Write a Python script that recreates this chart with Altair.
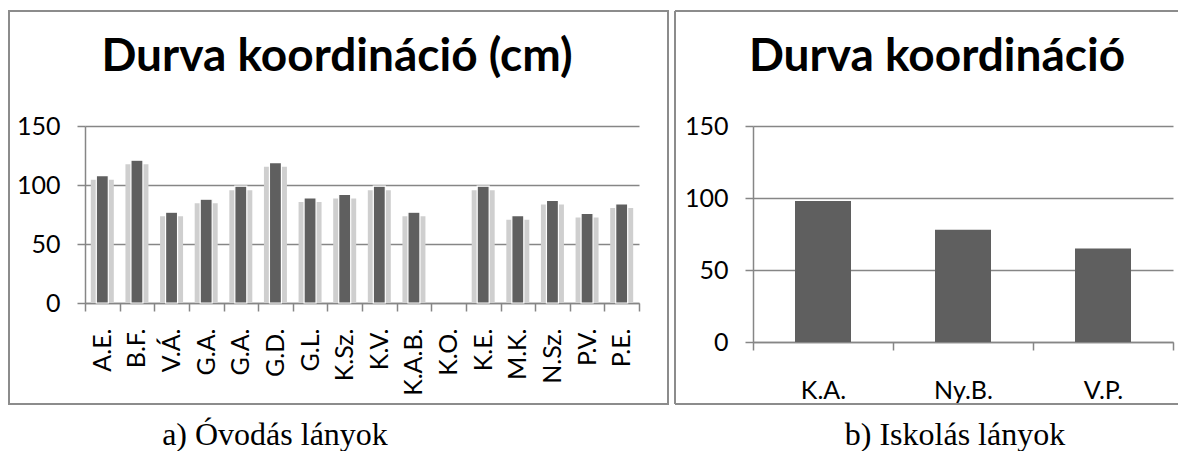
import altair as alt
import pandas as pd

# ---- data ----
left_names = ["A.E.", "B.F.", "V.Á.", "G.A.", "G.A.", "G.D.", "G.L.", "K.Sz.",
              "K.V.", "K.A.B.", "K.O.", "K.E.", "M.K.", "N.Sz.", "P.V.", "P.E."]
left_values = [108, 121, 77, 88, 99, 119, 89, 92, 99, 77, None, 99, 74, 87, 76, 84]

right_names = ["K.A.", "Ny.B.", "V.P."]
right_values = [98, 78, 65]

y_ticks = [0, 50, 100, 150]

left_title = "Durva koordináció (cm)"
right_title = "Durva koordináció"
left_caption = "a) Óvodás lányok"
right_caption = "b) Iskolás lányok"

# ---- style ----
GRAY = "#868686"
BAR = "#5f5f5f"
SHADOW = "#cfcfcf"
FONT = "Lato"
LABEL_SIZE = 25

left_df = pd.DataFrame({"idx": list(range(len(left_names))),
                        "name": left_names, "value": left_values})
right_df = pd.DataFrame({"idx": list(range(len(right_names))),
                         "name": right_names, "value": right_values})

def label_expr(names):
    arr = ",".join("'" + n + "'" for n in names)
    return "[" + arr + "][datum.value]"

def y_axis():
    return alt.Axis(values=y_ticks, grid=True, gridColor=GRAY, gridWidth=1.5,
                    domainColor=GRAY, domainWidth=1.5, tickColor=GRAY, tickWidth=1.5,
                    tickSize=8, labelFont=FONT, labelFontSize=LABEL_SIZE, labelColor="black",
                    labelPadding=17, title=None)

def x_axis(names, angle, pad, baseline):
    return alt.Axis(labelExpr=label_expr(names), labelAngle=angle, tickBand="extent",
                    domainColor=GRAY, domainWidth=1.5, tickColor=GRAY, tickWidth=1.5,
                    tickSize=8, labelFont=FONT, labelFontSize=LABEL_SIZE, labelColor="black",
                    labelPadding=pad, labelBaseline=baseline, title=None, grid=False)

one = pd.DataFrame({"k": [0]})

def frame(x1, x2, y1, y2, open_right=False):
    if not open_right:
        return alt.Chart(one).mark_rect(fill=None, stroke="#8c8c8c", strokeWidth=2).encode(
            x=alt.value(x1), x2=alt.value(x2), y=alt.value(y1), y2=alt.value(y2))
    top = alt.Chart(one).mark_rule(stroke="#8c8c8c", strokeWidth=2).encode(
        x=alt.value(x1), x2=alt.value(x2), y=alt.value(y1))
    bot = alt.Chart(one).mark_rule(stroke="#8c8c8c", strokeWidth=2).encode(
        x=alt.value(x1), x2=alt.value(x2), y=alt.value(y2))
    lef = alt.Chart(one).mark_rule(stroke="#8c8c8c", strokeWidth=2).encode(
        x=alt.value(x1), y=alt.value(y1), y2=alt.value(y2))
    return top + bot + lef

def text(t, x, y, size, bold=False, serif=False):
    return alt.Chart(one).mark_text(
        font="Liberation Serif" if serif else FONT,
        fontWeight="bold" if bold else "normal",
        fontSize=size, align="center", baseline="alphabetic", color="black").encode(
        x=alt.value(x), y=alt.value(y), text=alt.value(t))

# ---- left panel ----
LW, LH = 554, 177
lx = alt.X("idx:O", scale=alt.Scale(domain=list(range(len(left_names))),
                                      paddingInner=0, paddingOuter=0),
           axis=x_axis(left_names, -90, 17, "middle"))
lyscale = alt.Scale(domain=[0, 150])

left_shadow = alt.Chart(left_df).transform_filter("isValid(datum.value)").transform_calculate(
    shadow="datum.value - 3.5").mark_bar(size=23, color=SHADOW).encode(
    x=lx, y=alt.Y("shadow:Q", scale=lyscale, axis=y_axis()))
left_bar = alt.Chart(left_df).transform_filter("isValid(datum.value)").mark_bar(
    size=12, color=BAR, stroke="white", strokeWidth=1.2).encode(
    x=lx, y=alt.Y("value:Q", scale=lyscale, axis=y_axis()))

left = alt.layer(
    frame(-76, 583, -115, 278),
    left_shadow, left_bar,
    text(left_title, 252, -55, 46, bold=True),
    text(left_caption, 190, 319, 32, serif=True),
).properties(width=LW, height=LH)

# ---- right panel ----
RW, RH = 420, 216
rx = alt.X("idx:O", scale=alt.Scale(domain=list(range(len(right_names))),
                                      paddingInner=0, paddingOuter=0),
           axis=x_axis(right_names, 0, 28, "top"))
right_bar = alt.Chart(right_df).mark_bar(size=56, color=BAR).encode(
    x=rx, y=alt.Y("value:Q", scale=alt.Scale(domain=[0, 150]), axis=y_axis()))

right = alt.layer(
    frame(-78, 425, -115, 278, open_right=True),
    right_bar,
    text(right_title, 184, -55, 46, bold=True),
    text(right_caption, 202, 319, 32, serif=True),
).properties(width=RW, height=RH)

chart = alt.hconcat(left, right, spacing=114, bounds="flush").properties(
    padding={"left": 0, "top": 2, "right": 0, "bottom": 0}
).configure_view(stroke=None)

chart.save("out.html", embed_options={"renderer": "svg", "actions": False})
